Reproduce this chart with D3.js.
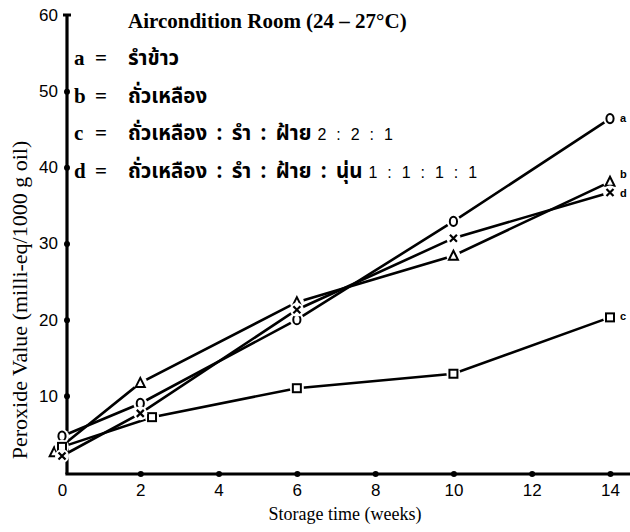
<!DOCTYPE html>
<html><head><meta charset="utf-8">
<script src="https://cdn.jsdelivr.net/npm/d3@7"></script>
<style>body{margin:0;background:#fff}</style>
</head><body><svg id="c" width="630" height="532"></svg>
<script>
const weeks = [0, 2, 6, 10, 14];
const weeksB = [-0.2, 2, 6, 10, 14];
const weeksC = [0, 2.3, 6, 10, 14];
const seriesA = [4.7, 9.0, 20.0, 32.9, 46.4];
const seriesB = [2.6, 11.7, 22.3, 28.4, 38.1];
const seriesC = [3.3, 7.2, 11.0, 12.9, 20.3];
const seriesD = [2.1, 7.7, 21.3, 30.7, 36.7];
const seriesNames = ["a", "b", "c", "d"];
const xTicks = [0, 2, 4, 6, 8, 10, 12, 14];
const yTicks = [10, 20, 30, 40, 50, 60];
const titleText = "Aircondition Room (24 – 27°C)";
const legendKeys = ["a", "b", "c", "d"];
const legendThai = ["รำข้าว", "ถั่วเหลือง", "ถั่วเหลือง : รำ : ฝ้าย", "ถั่วเหลือง : รำ : ฝ้าย : นุ่น"];
const legendRatio = ["", "", "2 : 2 : 1", "1 : 1 : 1 : 1"];
const xLabel = "Storage time (weeks)";
const yLabel = "Peroxide Value (milli-eq/1000 g oil)";

const svg = d3.select("#c");
const x = d3.scaleLinear().domain([0, 14]).range([62, 610]);
const y = d3.scaleLinear().domain([0, 60]).range([472, 15]);
const serif = "'Liberation Serif', 'DejaVu Serif', serif";
const sans = "'Liberation Sans', Arial, sans-serif";
const thai = "'Noto Sans Thai', 'Noto Sans Thai Looped', 'Loma', 'Garuda', 'Tlwg Typo', sans-serif";

// axes lines
const axX0 = 67, axY0 = 474;
svg.append("line").attr("x1", axX0).attr("x2", axX0).attr("y1", y(60)).attr("y2", axY0)
  .attr("stroke", "#000").attr("stroke-width", 3.2);
svg.append("line").attr("x1", axX0 - 1.6).attr("x2", 630).attr("y1", axY0).attr("y2", axY0)
  .attr("stroke", "#000").attr("stroke-width", 3.2);
svg.append("line").attr("x1", axX0 - 4).attr("x2", axX0 + 4).attr("y1", y(60)).attr("y2", y(60))
  .attr("stroke", "#000").attr("stroke-width", 3);

// x axis ticks
const gx = svg.append("g").attr("transform", `translate(0,${axY0})`)
  .call(d3.axisBottom(x).tickValues(xTicks).tickSize(0).tickPadding(10).tickFormat(d3.format("d")));
gx.select(".domain").remove();
gx.selectAll("text").attr("font-family", sans).attr("font-size", 17).attr("fill", "#000");
gx.selectAll(".tick").filter(d => d > 0).append("circle").attr("r", 3).attr("fill", "#000");

const gy = svg.append("g").attr("transform", `translate(${axX0},0)`)
  .call(d3.axisLeft(y).tickValues(yTicks).tickSize(0).tickPadding(9).tickFormat(d3.format("d")));
gy.select(".domain").remove();
gy.selectAll("text").attr("font-family", sans).attr("font-size", 17).attr("fill", "#000");
gy.selectAll(".tick").filter(d => d < 60).append("circle").attr("r", 3).attr("fill", "#000");

// axis titles
svg.append("text").attr("x", 345).attr("y", 520).attr("text-anchor", "middle")
  .attr("font-family", serif).attr("font-size", 18).text(xLabel);
svg.append("text").attr("transform", "translate(27,300) rotate(-90)").attr("text-anchor", "middle")
  .attr("font-family", serif).attr("font-size", 22).text(yLabel);

// legend
svg.append("text").attr("x", 128).attr("y", 28).attr("font-family", serif).attr("font-size", 21)
  .attr("font-weight", "bold").text(titleText);
legendKeys.forEach((k, i) => {
  const yy = 65 + i * 37.5;
  svg.append("text").attr("x", 74).attr("y", yy).attr("font-family", serif).attr("font-size", 21).attr("font-weight","bold").text(k);
  svg.append("text").attr("x", 95).attr("y", yy).attr("font-family", serif).attr("font-size", 21).attr("font-weight","bold").text("=");
  const t = svg.append("text").attr("x", 128).attr("y", yy).attr("font-family", thai).attr("font-size", 20.5)
    .attr("font-weight", "bold").attr("word-spacing", 4);
  t.append("tspan").text(legendThai[i]);
  if (legendRatio[i]) t.append("tspan").attr("font-family", sans).attr("font-weight", "normal").attr("font-size", 16)
    .attr("dx", 6).attr("word-spacing", 5.5).text(legendRatio[i]);
});

// series
const data = [
  {name: "a", xs: weeks, ys: seriesA, shape: "circle"},
  {name: "b", xs: weeksB, ys: seriesB, shape: "triangle"},
  {name: "c", xs: weeksC, ys: seriesC, shape: "square"},
  {name: "d", xs: weeks, ys: seriesD, shape: "cross"}
];
const line = d3.line().x(d => x(d[0])).y(d => y(d[1]));
data.forEach(s => {
  const pts = s.xs.map((v, i) => [v, s.ys[i]]);
  svg.append("path").attr("d", line(pts)).attr("fill", "none").attr("stroke", "#000").attr("stroke-width", 2.6);
});
data.forEach(s => {
  const g = svg.append("g");
  s.xs.forEach((v, i) => {
    const px = x(v), py = y(s.ys[i]);
    g.append("circle").attr("cx", px).attr("cy", py).attr("r", 7).attr("fill", "#fff");
    if (s.shape === "circle") {
      g.append("ellipse").attr("cx", px).attr("cy", py).attr("rx", 3.6).attr("ry", 4.6)
        .attr("fill", "#fff").attr("stroke", "#000").attr("stroke-width", 2);
    } else if (s.shape === "square") {
      g.append("rect").attr("x", px - 4).attr("y", py - 4).attr("width", 8).attr("height", 8)
        .attr("fill", "#fff").attr("stroke", "#000").attr("stroke-width", 2);
    } else if (s.shape === "triangle") {
      g.append("path").attr("d", `M${px},${py - 5}L${px + 4.5},${py + 4}L${px - 4.5},${py + 4}Z`)
        .attr("fill", "#fff").attr("stroke", "#000").attr("stroke-width", 2);
    } else {
      g.append("path").attr("d", `M${px - 3.5},${py - 3.5}L${px + 3.5},${py + 3.5}M${px + 3.5},${py - 3.5}L${px - 3.5},${py + 3.5}`)
        .attr("stroke", "#000").attr("stroke-width", 2.2);
    }
  });
  const last = s.xs.length - 1;
  const lx = x(s.xs[last]) + 10;
  const dy = s.name === "b" ? -4 : (s.name === "d" ? 5 : 3);
  svg.append("text").attr("x", lx).attr("y", y(s.ys[last]) + dy).attr("font-family", sans)
    .attr("font-weight", "bold").attr("font-size", 11).text(s.name);
});
</script></body></html>
